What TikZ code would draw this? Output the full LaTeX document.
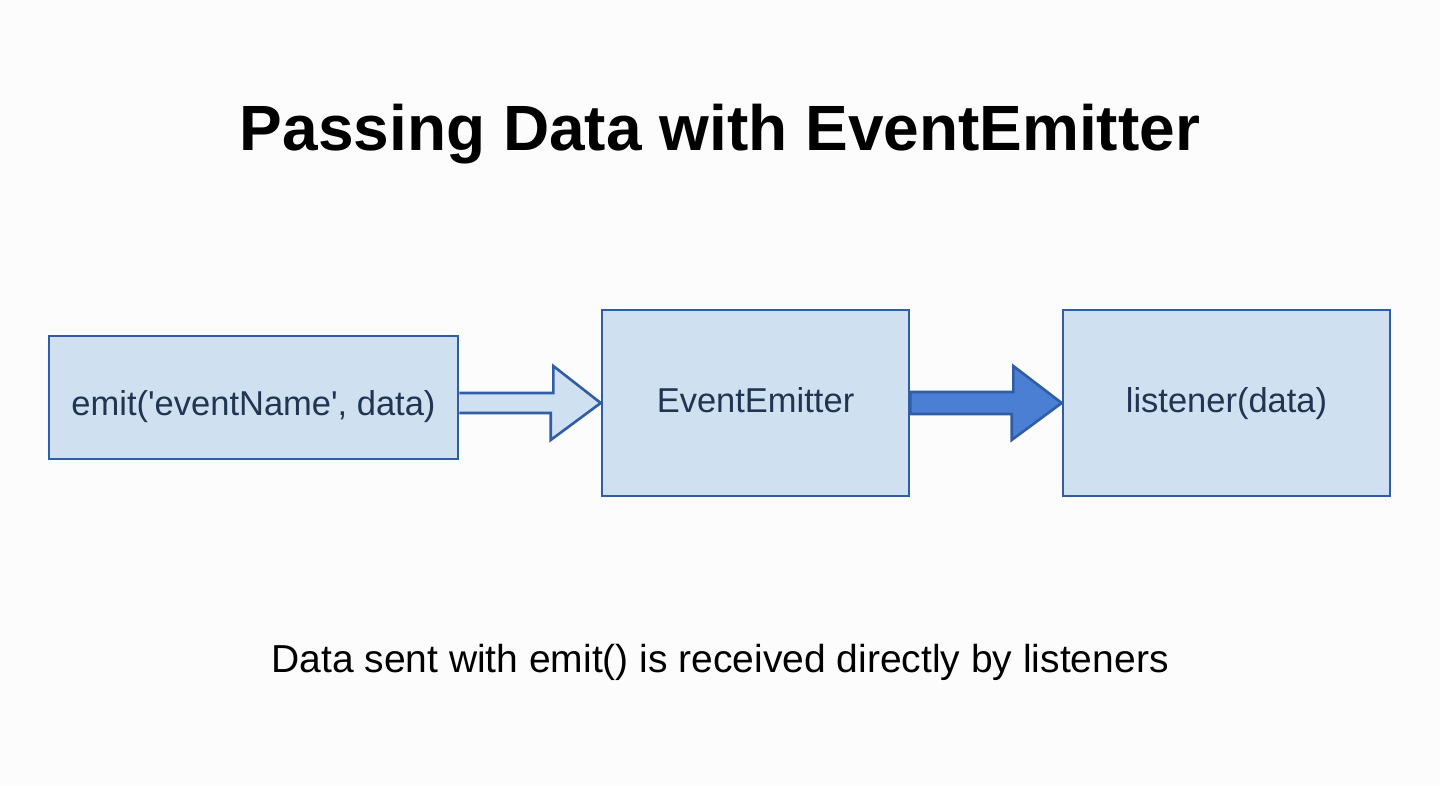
\documentclass[tikz,border=0pt]{standalone}
\usepackage{fontspec}
\setmainfont{Liberation Sans}
\usetikzlibrary{calc}
\definecolor{boxfill}{HTML}{CFE0F1}
\definecolor{boxline}{HTML}{2F5DA6}
\definecolor{boxtext}{HTML}{1F3550}
\definecolor{arrowfill}{HTML}{4A7FD4}
\definecolor{bg}{HTML}{FCFCFC}
\tikzset{
  box/.style={draw=boxline, fill=boxfill, line width=2.6pt, inner sep=0pt, font=\fontsize{34.5}{40}\selectfont, text=boxtext, text height=25pt, text depth=7pt},
  hollowarrow/.style={draw=boxline, fill=boxfill, line width=2.6pt, line join=miter},
  solidarrow/.style={draw=boxline, fill=arrowfill, line width=2.6pt, line join=miter},
}
\begin{document}
\begin{tikzpicture}[x=1pt,y=-1pt]
\fill[bg] (0,0) rectangle (1440,785);
\useasboundingbox (0,0) rectangle (1440,785);
\node[font=\bfseries\fontsize{64}{70}\selectfont, text=black, anchor=base] (title) at (720,150) {Passing Data with EventEmitter};
\node[box, minimum width=409pt, minimum height=123pt, text height=35pt, text depth=0pt] (b1) at (253.5,397.5) {emit(\textquotesingle eventName\textquotesingle, data)};
\node[box, minimum width=307pt, minimum height=186pt] (b2) at (755.5,403) {EventEmitter};
\node[box, minimum width=327pt, minimum height=186pt] (b3) at (1226.5,403) {listener(data)};
% hollow arrow b1 -> b2
\draw[hollowarrow] ($(b1.east |- b2.west)+(0,-10)$) -- ++(94,0) -- ++(0,-27) -- (b2.west) -- ++(-50,37) -- ++(0,-27) -- ($(b1.east |- b2.west)+(0,10)$);
% solid arrow b2 -> b3
\draw[solidarrow] ($(b2.east)+(0,-11)$) -- ++(103,0) -- ++(0,-26) -- (b3.west) -- ++(-50,37) -- ++(0,-26) -- ($(b2.east)+(0,11)$) -- cycle;
\node[font=\fontsize{39}{44}\selectfont, text=black, anchor=base] (caption) at (720,672) {Data sent with emit() is received directly by listeners};
\end{tikzpicture}
\end{document}
